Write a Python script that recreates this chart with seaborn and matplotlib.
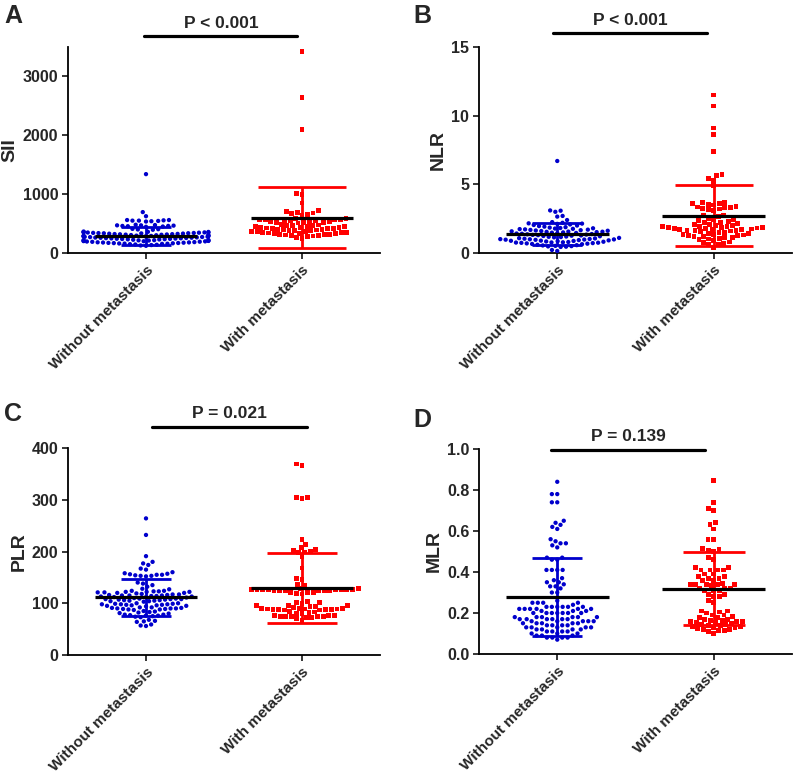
import warnings
import matplotlib
matplotlib.use('Agg')
import matplotlib.pyplot as plt
import matplotlib.transforms as mtransforms
import pandas as pd
import seaborn as sns
warnings.filterwarnings('ignore')

sns.set_style('ticks')
plt.rcParams['font.family'] = ['Liberation Sans', 'DejaVu Sans']
plt.rcParams['font.weight'] = 'bold'

groups = ['Without metastasis', 'With metastasis']
panel_letters = ['A', 'B', 'C', 'D']
y_labels = ['SII', 'NLR', 'PLR', 'MLR']
p_texts = ['P < 0.001', 'P < 0.001', 'P = 0.021', 'P = 0.139']
y_ticks = [[0, 1000, 2000, 3000], [0, 5, 10, 15],
           [0, 100, 200, 300, 400], [0.0, 0.2, 0.4, 0.6, 0.8, 1.0]]
y_tops = [3500, 15, 400, 1.0]

# SII
sii_without = [1340, 695, 625, 560, 555, 550, 545, 540, 560, 535, 550,
               480, 470, 465, 460, 455, 450, 475, 460, 445, 470, 410, 400, 395, 405,
               365, 360, 355, 350, 348, 345, 342, 340, 338, 335, 333, 330, 328, 325,
               322, 320, 358, 352, 346, 336,
               318, 315, 312, 310, 305, 302, 300, 298, 295, 292, 290, 288, 285, 282, 280,
               278, 275, 272, 270, 265, 262, 260, 258, 255, 252, 250, 248, 245, 242, 240,
               238, 235, 232, 230, 225, 222, 220, 218, 215, 212, 210, 208, 205, 202, 200,
               198, 195, 192, 190, 185, 182, 180, 178, 175, 172, 170, 168, 165, 162, 160,
               158, 155, 150, 145, 140, 135, 128, 122]
sii_with = [3420, 2640, 2100, 1010, 990, 850, 720, 705, 690, 680, 665, 650, 635,
            590, 580, 575, 570, 565, 560, 555, 550, 545, 540, 535, 530, 525, 520, 515, 510,
            480, 475, 470, 465, 460, 455, 450, 445, 440, 435, 430, 425, 420, 415, 410, 405,
            400, 395, 390, 385, 380, 375, 370, 365, 360, 355, 350, 345, 340, 335, 330, 325,
            320, 315, 310, 305, 300, 295, 290, 285, 260, 250]

# NLR
nlr_without = [6.7, 3.1, 3.08, 3.0, 2.7, 2.65, 2.4,
               2.25, 2.2, 2.16, 2.12, 2.08, 2.04, 2.0, 2.14, 1.96, 1.92, 1.88,
               1.85, 1.82, 1.8, 1.78, 1.76, 1.74, 1.72, 1.7, 1.68, 1.66, 1.64, 1.62,
               1.6, 1.58, 1.56, 1.55, 1.54, 1.52, 1.5, 1.48, 1.46, 1.44, 1.42, 1.4, 1.38,
               1.36, 1.34, 1.32, 1.3, 1.28, 1.26, 1.24, 1.22, 1.2, 1.18, 1.16, 1.14,
               1.1, 1.08, 1.06, 1.04, 1.02, 1.0, 0.99, 0.98, 0.96, 0.94, 0.92, 0.9,
               0.89, 0.88, 1.01, 0.97,
               0.86, 0.84, 0.82, 0.8, 0.78, 0.76, 0.75, 0.74, 0.72, 0.7, 0.68, 0.66, 0.64, 0.77,
               0.6, 0.57, 0.55, 0.52, 0.5, 0.48, 0.46, 0.44, 0.22, 0.15]
nlr_with = [11.5, 10.7, 9.1, 8.6, 7.4, 5.7, 5.65, 5.4, 5.3, 4.9,
            3.7, 3.65, 3.6, 3.55, 3.6, 3.5, 3.4, 3.35, 3.3, 3.25, 3.2, 3.15, 3.1, 3.3,
            2.75, 2.7, 2.65, 2.5, 2.45, 2.4, 2.35, 2.3, 2.25, 2.2, 2.15,
            2.1, 2.06, 2.02, 1.98, 1.95, 1.92, 1.9, 1.88, 1.86, 1.84, 1.82, 1.8, 1.78,
            1.75, 1.72, 1.7, 1.68, 1.66, 1.64, 1.62, 1.6, 1.56, 1.52, 1.48,
            1.44, 1.4, 1.37, 1.34, 1.31, 1.28, 1.25, 1.22,
            1.18, 1.14, 1.1, 1.06, 1.02, 0.98, 0.94,
            0.8, 0.75, 0.7, 0.65, 0.6, 0.4]

# PLR
plr_without = [264, 232, 191, 180, 177, 174, 167, 165,
               160, 158, 156, 155, 154, 153, 152, 155, 157, 153,
               140, 138, 135, 132, 128, 127,
               124, 123, 122, 122, 121, 120, 124, 123, 122, 121, 120, 119, 118,
               117, 116, 115, 114, 113, 112, 116, 115, 114, 113, 112, 111, 110, 117, 115,
               109, 108, 107, 106, 105, 104, 109, 108, 107, 106, 105, 104, 103, 108,
               100, 99, 98, 97, 96, 95, 100, 99, 98, 97, 96, 95, 94, 98,
               92, 91, 90, 89, 88, 92, 91, 90, 89, 88, 87, 90,
               85, 84, 83, 82, 81, 80, 78, 77, 76, 75, 74, 73, 78, 76,
               68, 66, 65, 64, 59, 57, 56]
plr_with = [369, 366, 305, 304, 303, 224, 214, 207, 204, 202, 200, 198, 199,
            190, 168, 148, 146, 137, 135,
            128, 127, 127, 126, 126, 125, 125, 124, 128, 127, 126, 125, 124, 126, 125, 127,
            121, 120, 119, 118, 120, 104, 102, 101, 100,
            96, 95, 94, 93, 92, 95, 90, 89, 89, 88, 88, 87, 90, 89, 88, 87, 90, 88,
            84, 83, 82, 81, 80, 76, 76, 75, 75, 74, 74, 73, 73, 76, 75, 70, 66]

# MLR
mlr_without = [0.84, 0.78, 0.78, 0.74, 0.74, 0.65, 0.64, 0.63, 0.62, 0.61,
               0.56, 0.55, 0.54, 0.54, 0.53, 0.52, 0.47, 0.47, 0.46, 0.46,
               0.41, 0.41, 0.41, 0.41, 0.37, 0.36, 0.35, 0.35, 0.34, 0.33, 0.33, 0.32,
               0.30, 0.30, 0.26, 0.25, 0.25, 0.25, 0.25, 0.24,
               0.23, 0.23, 0.23, 0.23, 0.23, 0.22, 0.22, 0.22, 0.22, 0.22, 0.22, 0.23,
               0.21, 0.21, 0.20, 0.20, 0.20, 0.20, 0.20, 0.21, 0.20, 0.20,
               0.18, 0.18, 0.18, 0.17, 0.17, 0.17, 0.18, 0.18, 0.17, 0.17, 0.18, 0.17,
               0.16, 0.16, 0.15, 0.15, 0.16, 0.16, 0.15, 0.15, 0.16, 0.15,
               0.14, 0.14, 0.13, 0.13, 0.14, 0.13, 0.13, 0.14, 0.13,
               0.12, 0.12, 0.11, 0.11, 0.12, 0.11, 0.12, 0.11,
               0.10, 0.10, 0.09, 0.09, 0.10, 0.09, 0.08, 0.08, 0.08, 0.07, 0.08]
mlr_with = [0.845, 0.74, 0.71, 0.70, 0.64, 0.63, 0.61, 0.56, 0.56,
            0.515, 0.51, 0.505, 0.50, 0.47, 0.46,
            0.42, 0.42, 0.41, 0.41, 0.41, 0.41, 0.39, 0.39,
            0.38, 0.38, 0.37, 0.37, 0.36, 0.36,
            0.345, 0.34, 0.34, 0.34, 0.34, 0.34, 0.335,
            0.32, 0.32, 0.31, 0.31, 0.32, 0.31, 0.29, 0.29, 0.28, 0.28, 0.26, 0.25,
            0.21, 0.21, 0.205, 0.20, 0.19, 0.19, 0.185, 0.18, 0.18,
            0.17, 0.17, 0.165, 0.165, 0.16, 0.16, 0.16, 0.155, 0.155, 0.15,
            0.145, 0.145, 0.14, 0.14, 0.135, 0.135, 0.13, 0.13,
            0.125, 0.12, 0.12, 0.115, 0.115, 0.11, 0.10]

# mean and SD
means_without = [295, 1.37, 111.6, 0.278]
sds_without = [152, 0.82, 35.5, 0.19]
means_with = [598, 2.72, 130, 0.319]
sds_with = [520, 2.2, 68, 0.177]

data_without = [sii_without, nlr_without, plr_without, mlr_without]
data_with = [sii_with, nlr_with, plr_with, mlr_with]

blue = '#0000cc'
red = '#ff0000'

W, H = 794, 775
fig = plt.figure(figsize=(W / 100, H / 100), dpi=100)
# axes boxes in pixels: left, top, right, bottom
boxes = [(68, 47, 380, 253), (479, 47, 792, 253),
         (68, 448, 380, 655), (479, 449, 792, 654)]
red_caps = [32, 28, 25, 22]
bracket_x = [(-0.01, 0.97), (-0.03, 0.96), (0.04, 1.03), (-0.04, 0.945)]
bracket_y = [1.053, 1.068, 1.10, 0.995]
text_y = [1.115, 1.13, 1.165, 1.06]
letter_pos = [(4, 4), (413, 4), (4, 402), (413, 408)]

for i in range(4):
    l, t, r, b = boxes[i]
    ax = fig.add_axes([l / W, 1 - b / H, (r - l) / W, (b - t) / H])

    df = pd.DataFrame({'group': [groups[0]] * len(data_without[i]) + [groups[1]] * len(data_with[i]),
                       'value': data_without[i] + data_with[i]})
    # invisible edge widens the swarm spacing a little, like the original dot plot
    sns.swarmplot(data=df[df.group == groups[0]], x='group', y='value', order=groups,
                  color=blue, marker='o', size=3.1, linewidth=0.6, edgecolor='none',
                  ax=ax, zorder=3)
    sns.swarmplot(data=df[df.group == groups[1]], x='group', y='value', order=groups,
                  color=red, marker='s', size=3.5, linewidth=0.4, edgecolor='none',
                  ax=ax, zorder=3)

    # mean +/- SD
    ax.errorbar(0, means_without[i], yerr=sds_without[i], fmt='none', ecolor=blue,
                elinewidth=2, capsize=18, capthick=2, zorder=5)
    ax.errorbar(1, means_with[i], yerr=sds_with[i], fmt='none', ecolor=red,
                elinewidth=2, capsize=red_caps[i], capthick=2, zorder=5)
    ax.hlines([means_without[i], means_with[i]], [-0.33, 0.67], [0.33, 1.33],
              color='black', lw=2.3, zorder=6)

    ax.set_xlim(-0.5, 1.5)
    ax.set_ylim(0, y_tops[i])
    ax.set_yticks(y_ticks[i])
    if i == 3:
        ax.set_yticklabels([f'{v:.1f}' for v in y_ticks[i]])
    ax.set_xticks([0, 1])
    ax.set_xticklabels(groups, rotation=45, ha='right', rotation_mode='anchor')
    ax.tick_params(axis='y', labelsize=11.5, width=1.3, length=4, pad=3)
    ax.tick_params(axis='x', labelsize=11, width=1.3, length=4, pad=3)
    for lab in ax.get_xticklabels() + ax.get_yticklabels():
        lab.set_fontweight('bold')
    ax.set_xlabel('')
    ax.set_ylabel(y_labels[i], fontsize=14, fontweight='bold', labelpad=3)
    sns.despine(ax=ax)
    for s in ['left', 'bottom']:
        ax.spines[s].set_linewidth(1.3)
        ax.spines[s].set_color('black')

    trans = mtransforms.blended_transform_factory(ax.transData, ax.transAxes)
    x0, x1 = bracket_x[i]
    ax.plot([x0, x1], [bracket_y[i], bracket_y[i]], color='black', lw=2.3,
            transform=trans, clip_on=False)
    ax.text((x0 + x1) / 2, text_y[i], p_texts[i], transform=trans, ha='center',
            va='center', fontsize=12.5, fontweight='bold')

    lx, ly = letter_pos[i]
    fig.text(lx / W, 1 - ly / H, panel_letters[i], ha='left', va='top',
             fontsize=18, fontweight='bold')

fig.savefig('out.png', dpi=100)
